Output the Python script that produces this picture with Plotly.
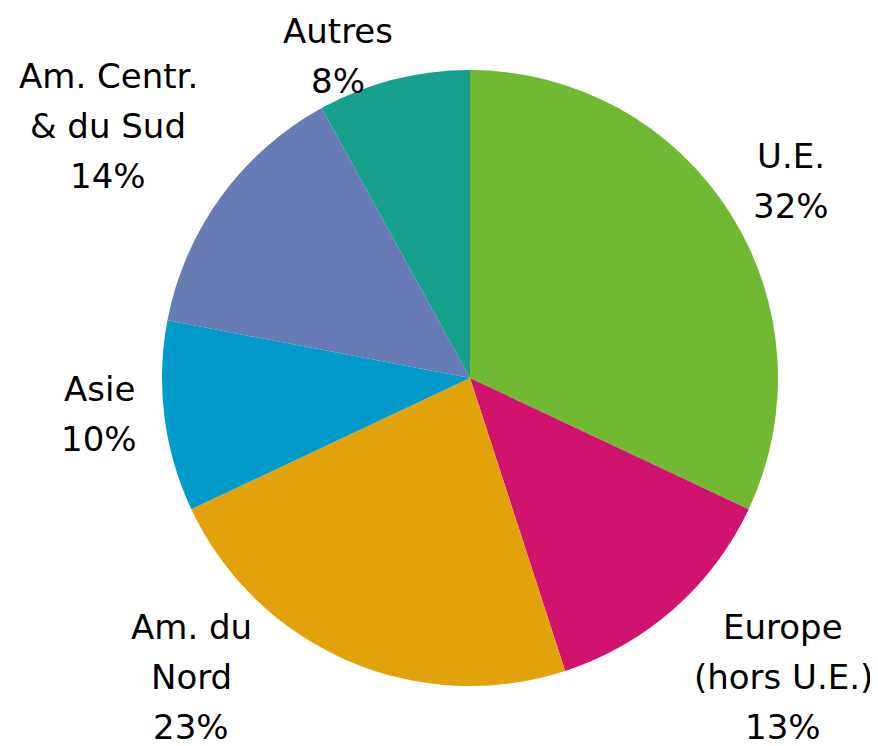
import plotly.graph_objects as go

regions = ["U.E.", "Europe (hors U.E.)", "Am. du Nord", "Asie", "Am. Centr. & du Sud", "Autres"]
shares = [32, 13, 23, 10, 14, 8]
colors = ["#72B933", "#D0136D", "#E2A30A", "#009ACB", "#677BB4", "#17A08E"]
label_lines = [["U.E."], ["Europe", "(hors U.E.)"], ["Am. du", "Nord"], ["Asie"], ["Am. Centr.", "& du Sud"], ["Autres"]]
# label anchor (pixel centre of first line, page coords) for each region
label_pos = [(791, 155), (783, 626), (191, 626), (99, 388), (108, 75), (338, 30)]

OFF = 8  # page body margin
W, H = 878 - OFF, 746 - OFF
LINE = 50

fig = go.Figure(go.Pie(
    labels=regions, values=shares, marker=dict(colors=colors, line=dict(width=0)),
    sort=False, direction="clockwise", rotation=0, textinfo="none",
    hoverinfo="label+percent", showlegend=False,
    domain=dict(x=[(162 - OFF) / W, (778 - OFF) / W], y=[(H - (686 - OFF)) / H, (H - (70 - OFF)) / H]),
))

annotations = []
for lines, share, (px, py) in zip(label_lines, shares, label_pos):
    all_lines = lines + [f"{share}%"]
    for i, t in enumerate(all_lines):
        annotations.append(dict(
            text=t, x=(px - OFF) / W, y=1 - (py - OFF + i * LINE + 1) / H, xref="paper", yref="paper",
            xanchor="center", yanchor="middle", showarrow=False,
            font=dict(family="DejaVu Sans", size=34, color="#000000"),
        ))

fig.update_layout(
    width=W, height=H, margin=dict(l=0, r=0, t=0, b=0),
    paper_bgcolor="white", plot_bgcolor="white", annotations=annotations,
)
fig.write_html("out.html")
